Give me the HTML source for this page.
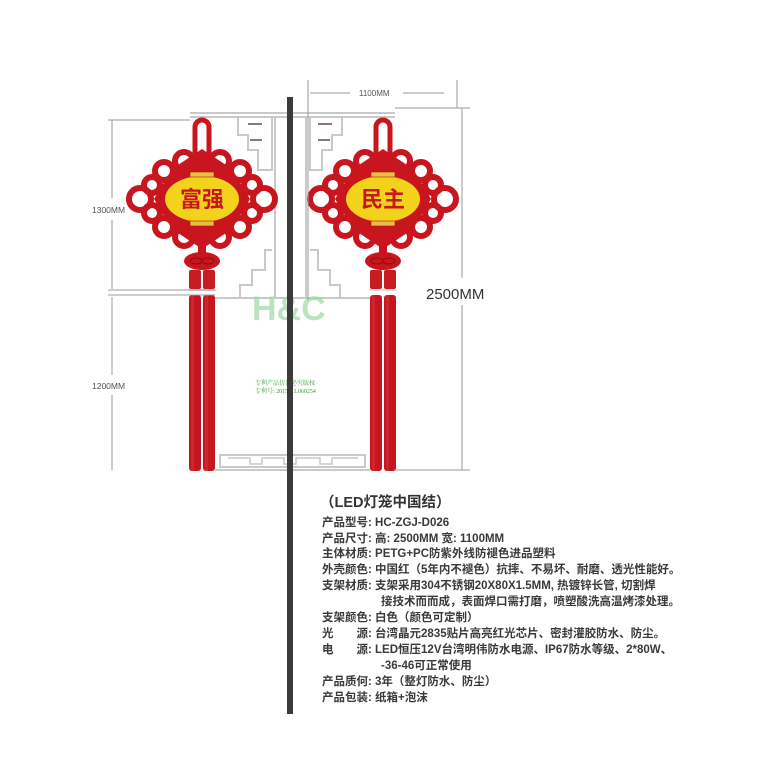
<!DOCTYPE html>
<html><head><meta charset="utf-8"><style>
html,body{margin:0;padding:0;background:#fff;}
svg{display:block}
.t{font-family:"Liberation Sans","Noto Sans CJK SC",sans-serif;font-size:11.5px;fill:#3a3a3a;font-weight:bold}
</style></head><body>
<svg width="770" height="769" viewBox="0 0 770 769" xmlns="http://www.w3.org/2000/svg">
<defs>
<g id="knot">
  <rect x="-7" y="-79" width="14" height="42" rx="7" fill="none" stroke="#c8151e" stroke-width="5"/>
  <g fill="none" stroke="#c8151e" stroke-width="6">
    <circle cx="-18" cy="-38" r="9"/><circle cx="18" cy="-38" r="9"/>
    <circle cx="-38" cy="-28" r="9"/><circle cx="38" cy="-28" r="9"/>
    <circle cx="-50" cy="-14" r="8"/><circle cx="50" cy="-14" r="8"/>
    <circle cx="-50" cy="14" r="8"/><circle cx="50" cy="14" r="8"/>
    <circle cx="-38" cy="28" r="9"/><circle cx="38" cy="28" r="9"/>
    <circle cx="-18" cy="38" r="9"/><circle cx="18" cy="38" r="9"/>
    <circle cx="-62" cy="0" r="11"/><circle cx="62" cy="0" r="11"/>
  </g>
  <path d="M0 -50 L30 -30 L48 0 L30 30 L0 50 L-30 30 L-48 0 L-30 -30Z" fill="#c8151e"/>
  <ellipse cx="0" cy="0" rx="42" ry="27" fill="#c8151e"/>
  <ellipse cx="0" cy="0" rx="37" ry="23" fill="#f3d21b"/>
  <rect x="-12" y="-27" width="24" height="5" fill="#e8c040" stroke="#b0151a" stroke-width="0.6"/>
  <rect x="-12" y="22" width="24" height="5" fill="#e8c040" stroke="#b0151a" stroke-width="0.6"/>
  <rect x="-4" y="46" width="8" height="14" fill="#c8151e"/>
  <ellipse cx="0" cy="62" rx="18" ry="9" fill="#c8151e"/>
  <ellipse cx="-6" cy="62" rx="6" ry="3" fill="none" stroke="#8e0d12" stroke-width="1"/>
  <ellipse cx="6" cy="62" rx="6" ry="3" fill="none" stroke="#8e0d12" stroke-width="1"/>
  <rect x="-13" y="71" width="12" height="19" rx="2" fill="#c91b22"/>
  <rect x="1" y="71" width="12" height="19" rx="2" fill="#c91b22"/>
  <rect x="-14" y="90" width="28" height="2" fill="#ddd"/>
  <rect x="-13" y="96" width="12" height="176" rx="3" fill="#c4161e"/>
  <rect x="1" y="96" width="12" height="176" rx="3" fill="#c4161e"/>
  <rect x="-11" y="96" width="3" height="176" fill="#d9303a" opacity="0.6"/>
  <rect x="3" y="96" width="3" height="176" fill="#d9303a" opacity="0.6"/>
</g>
</defs>

<g fill="none" stroke="#c9c9c9" stroke-width="2">
  <line x1="190" y1="113" x2="395" y2="113"/>
  <line x1="190" y1="117" x2="395" y2="117"/>
  <path d="M238 118 V135 H248 V150 H258 V170 H272 V118"/>
  <path d="M342 118 V135 H332 V150 H322 V170 H310 V118"/>
  <path d="M272 250 H265 V270 H252 V285 H240 V298 H285"/>
  <path d="M310 250 H318 V270 H330 V285 H340 V298 H295"/>
  <line x1="275" y1="118" x2="275" y2="298"/>
  <line x1="306" y1="118" x2="306" y2="298"/>
  <line x1="215" y1="298" x2="370" y2="298"/>
  <path d="M220 455 H365 V467 H220Z"/>
  <path d="M228 458 H250 V464 H262 V458 H284 V464 H296 V458 H320 V464 H332 V458 H358" stroke-width="1.5"/>
  <line x1="215" y1="470" x2="370" y2="470"/>
</g>
<line x1="248" y1="124" x2="262" y2="124" stroke="#8a7a72" stroke-width="2"/>
<line x1="250" y1="140" x2="262" y2="140" stroke="#8a7a72" stroke-width="2"/>
<line x1="318" y1="124" x2="332" y2="124" stroke="#8a7a72" stroke-width="2"/>
<line x1="318" y1="140" x2="330" y2="140" stroke="#8a7a72" stroke-width="2"/>

<text x="252" y="320" font-family="Liberation Sans,sans-serif" font-weight="bold" font-size="34" fill="#9fd8a8" opacity="0.7">H&amp;C</text>
<text x="255" y="385" font-family="Liberation Serif,'Noto Serif CJK SC',serif" font-size="6" fill="#3a9c3a">专利产品仿冒必究版权</text>
<text x="255" y="393" font-family="Liberation Serif,'Noto Serif CJK SC',serif" font-size="6" fill="#3a9c3a">专利号: 201521L060254</text>

<rect x="287" y="97" width="6" height="617" fill="#3b3b3b"/>

<use href="#knot" transform="translate(202,199)"/>
<use href="#knot" transform="translate(383,199)"/>
<text x="202" y="207" text-anchor="middle" font-family="'Noto Sans CJK SC',sans-serif" font-weight="bold" font-size="22" fill="#c8151e">富强</text>
<text x="383" y="207" text-anchor="middle" font-family="'Noto Sans CJK SC',sans-serif" font-weight="bold" font-size="22" fill="#c8151e">民主</text>

<g stroke="#999" stroke-width="1">
  <line x1="108" y1="120" x2="190" y2="120"/>
  <line x1="108" y1="290" x2="215" y2="290"/>
  <line x1="108" y1="295" x2="215" y2="295"/>
  <line x1="112" y1="120" x2="112" y2="198"/>
  <line x1="112" y1="220" x2="112" y2="289"/>
  <line x1="112" y1="297" x2="112" y2="375"/>
  <line x1="112" y1="395" x2="112" y2="470"/>
  <line x1="308" y1="80" x2="308" y2="300"/>
  <line x1="457" y1="80" x2="457" y2="108"/>
  <line x1="310" y1="93" x2="350" y2="93"/>
  <line x1="403" y1="93" x2="444" y2="93"/>
  <line x1="395" y1="108" x2="470" y2="108"/>
  <line x1="462" y1="108" x2="462" y2="278"/>
  <line x1="462" y1="305" x2="462" y2="470"/>
  <line x1="395" y1="470" x2="470" y2="470"/>
</g>
<text x="92" y="213" font-family="Liberation Sans,sans-serif" font-size="8.5" fill="#555">1300MM</text>
<text x="92" y="389" font-family="Liberation Sans,sans-serif" font-size="8.5" fill="#555">1200MM</text>
<text x="359" y="96" font-family="Liberation Sans,sans-serif" font-size="8" fill="#555">1100MM</text>
<text x="426" y="299" font-family="Liberation Sans,sans-serif" font-size="15" fill="#333">2500MM</text>

<text x="320" y="507" font-family="Liberation Sans,'Noto Sans CJK SC',sans-serif" font-size="14.5" font-weight="bold" fill="#333">（LED灯笼中国结）</text>
<text class="t" x="322" y="526">产品型号: HC-ZGJ-D026</text>
<text class="t" x="322" y="542">产品尺寸: 高: 2500MM  宽: 1100MM</text>
<text class="t" x="322" y="557">主体材质: PETG+PC防紫外线防褪色进品塑料</text>
<text class="t" x="322" y="573">外壳颜色: 中国红（5年内不褪色）抗摔、不易坏、耐磨、透光性能好。</text>
<text class="t" x="322" y="589">支架材质: 支架采用304不锈钢20X80X1.5MM, 热镀锌长管, 切割焊</text>
<text class="t" x="381" y="605">接技术而而成，表面焊口需打磨，喷塑酸洗高温烤漆处理。</text>
<text class="t" x="322" y="621">支架颜色: 白色（颜色可定制）</text>
<text class="t" x="322" y="637">光　　源: 台湾晶元2835贴片高亮红光芯片、密封灌胶防水、防尘。</text>
<text class="t" x="322" y="653">电　　源: LED恒压12V台湾明伟防水电源、IP67防水等级、2*80W、</text>
<text class="t" x="381" y="669">-36-46可正常使用</text>
<text class="t" x="322" y="685">产品质何: 3年（整灯防水、防尘）</text>
<text class="t" x="322" y="701">产品包装: 纸箱+泡沫</text>
</svg>
</body></html>
